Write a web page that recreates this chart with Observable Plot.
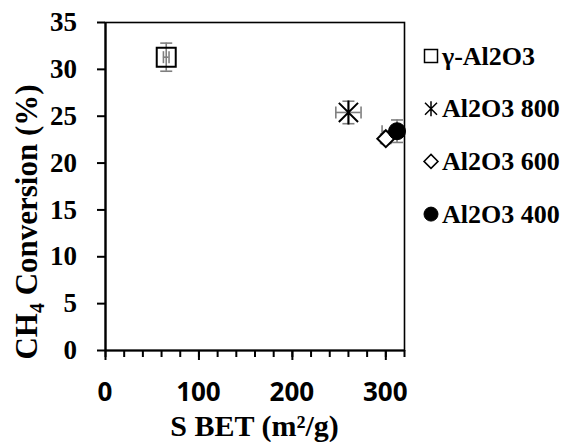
<!DOCTYPE html>
<html><head><meta charset="utf-8">
<script src="https://cdn.jsdelivr.net/npm/d3@7"></script>
<script src="https://cdn.jsdelivr.net/npm/@observablehq/plot@0.6"></script>
<style>html,body{margin:0;padding:0;background:#fff;overflow:hidden}#chart{width:582px;height:442px}#chart svg{display:block}</style>
</head><body><div id="chart"></div>
<script>
// ---- data ----
const samples = ["γ-Al2O3", "Al2O3 800", "Al2O3 600", "Al2O3 400"];
const sbet = [65, 260, 300, 312];
const sbetErr = [3, 13.5, 4, 16];
const conv = [31.3, 25.4, 22.6, 23.4];
const convErr = [1.5, 1.2, 0.5, 1.2];
const xTicks = [0, 100, 200, 300];
const xMinorTicks = [0, 20, 40, 60, 80, 100, 120, 140, 160, 180, 200, 220, 240, 260, 280, 300, 320];
const yTicks = [0, 5, 10, 15, 20, 25, 30, 35];

const data = samples.map((s, i) => ({sample: s, x: sbet[i], xe: sbetErr[i], y: conv[i], ye: convErr[i]}));
const capsY = data.flatMap(d => [{x: d.x, y: d.y - d.ye}, {x: d.x, y: d.y + d.ye}]);
const capsX = data.flatMap(d => [{x: d.x - d.xe, y: d.y}, {x: d.x + d.xe, y: d.y}]);

// ---- symbols (size = PI*r^2) ----
const rad = s => Math.sqrt(s / Math.PI);
const symSquare = {draw(c, s) {const r = rad(s); c.moveTo(-r, -r); c.lineTo(r, -r); c.lineTo(r, r); c.lineTo(-r, r); c.closePath();}};
const symAst = {draw(c, s) {const r = rad(s), a = r * 0.8; c.moveTo(-a, -a); c.lineTo(a, a); c.moveTo(-a, a); c.lineTo(a, -a); c.moveTo(0, -r); c.lineTo(0, r);}};
const symDiamond = {draw(c, s) {const r = rad(s); c.moveTo(0, -r); c.lineTo(r, 0); c.lineTo(0, r); c.lineTo(-r, 0); c.closePath();}};
const symCircle = {draw(c, s) {const r = rad(s); c.moveTo(r, 0); c.arc(0, 0, r, 0, 2 * Math.PI);}};
const capH = {draw(c, s) {const r = rad(s); c.moveTo(-r, 0); c.lineTo(r, 0);}};
const capV = {draw(c, s) {const r = rad(s); c.moveTo(0, -r); c.lineTo(0, r);}};

const styles = [
  {symbol: symSquare, r: 9.5, fill: "none", stroke: "black", strokeWidth: 2, lr: 6.5, lsw: 1.5},
  {symbol: symAst, r: 12, fill: "none", stroke: "black", strokeWidth: 2, lr: 7.5, lsw: 1.5},
  {symbol: symDiamond, r: 8.5, fill: "white", stroke: "black", strokeWidth: 2, lr: 7, lsw: 1.5},
  {symbol: symCircle, r: 8.5, fill: "black", stroke: "black", strokeWidth: 1, lr: 7, lsw: 1}
];

const gray = "#7f7f7f";
const serif = '"Liberation Serif", "Times New Roman", "DejaVu Serif", serif';
const sans = '"Open Sans", "DejaVu Sans", sans-serif';

const svg = Plot.plot({
  width: 582, height: 442,
  marginLeft: 105, marginRight: 178, marginTop: 22, marginBottom: 92,
  x: {domain: [0, 320]},
  y: {domain: [0, 35]},
  style: {background: "white", color: "black", overflow: "visible"},
  marks: [
    Plot.frame({stroke: "black", strokeWidth: 1.6}),
    // error bars
    Plot.ruleX(data, {x: "x", y1: d => d.y - d.ye, y2: d => d.y + d.ye, stroke: gray, strokeWidth: 1.6, clip: true}),
    Plot.ruleY(data, {y: "y", x1: d => d.x - d.xe, x2: d => d.x + d.xe, stroke: gray, strokeWidth: 1.6, clip: true}),
    Plot.dot(capsY, {x: "x", y: "y", symbol: capH, r: 6, stroke: gray, strokeWidth: 1.6, clip: true}),
    Plot.dot(capsX, {x: "x", y: "y", symbol: capV, r: 6, stroke: gray, strokeWidth: 1.6, clip: true}),
    // markers
    ...data.map((d, i) => Plot.dot([d], {x: "x", y: "y", symbol: styles[i].symbol, r: styles[i].r,
      fill: styles[i].fill, stroke: styles[i].stroke, strokeWidth: styles[i].strokeWidth})),
    // axes
    Plot.ruleX([0], {stroke: "black", strokeWidth: 2.2}),
    Plot.ruleY([0], {stroke: "black", strokeWidth: 2.2}),
    Plot.axisY({ticks: yTicks, tickSize: 8, strokeWidth: 2, tickFormat: () => "", label: null}),
    Plot.axisX({ticks: xMinorTicks, tickSize: 7, strokeWidth: 2, tickFormat: () => "", label: null}),
    Plot.axisX({ticks: xTicks, tickSize: 10, strokeWidth: 2, tickFormat: () => "", label: null})
  ]
});
document.getElementById("chart").appendChild(svg);

const s = d3.select(svg);
const xs = svg.scale("x"), ys = svg.scale("y");
const font = (sel, size, fam = serif) => sel.style("font-family", fam).style("font-weight", "bold")
  .style("font-size", size + "px").style("fill", "black");

// tick labels placed with Plot's scales
const yl = s.append("g").attr("text-anchor", "end");
yTicks.forEach(v => font(yl.append("text").attr("x", xs.apply(0) - 28).attr("y", ys.apply(v)).attr("dy", "0.34em"), 27).text(String(v)));
const xl = s.append("g").attr("text-anchor", "middle");
xTicks.forEach(v => font(xl.append("text").attr("x", xs.apply(v)).attr("y", ys.apply(0) + 51), 26, sans).text(String(v)));

// x title
font(s.append("text").attr("x", 254.5).attr("y", 436).attr("text-anchor", "middle"), 30)
  .text("S BET (m²/g)");
// y title
const yt = font(s.append("text").attr("transform", "translate(37,222) rotate(-90)").attr("text-anchor", "middle"), 31);
yt.append("tspan").text("CH");
yt.append("tspan").style("font-size", "20px").attr("dy", 7).text("4");
yt.append("tspan").attr("dy", -7).text(" Conversion (%)");

// legend
const lg = s.append("g").attr("text-anchor", "start");
samples.forEach((name, i) => {
  const cy = 56 + i * 52.7;
  const st = styles[i];
  const p = d3.path();
  st.symbol.draw(p, Math.PI * st.lr * st.lr);
  lg.append("path").attr("d", p.toString()).attr("transform", `translate(431,${cy})`)
    .attr("fill", st.fill).attr("stroke", st.stroke).attr("stroke-width", st.lsw);
  font(lg.append("text").attr("x", 442).attr("y", cy).attr("dy", "0.33em"), 26).text(name);
});
</script></body></html>
